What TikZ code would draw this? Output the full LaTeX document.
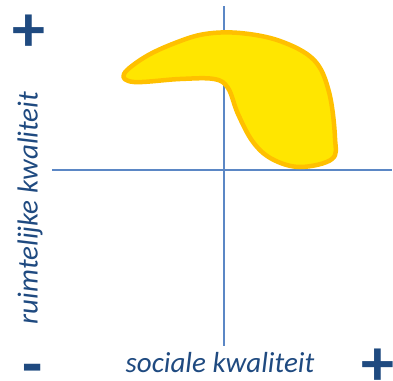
\documentclass[tikz,border=0pt]{standalone}
\usepackage{fontspec}
\setmainfont{Carlito}
\usetikzlibrary{positioning}
\definecolor{axisStroke}{HTML}{5B87C5}
\definecolor{labelText}{HTML}{1F4A80}
\definecolor{blobFill}{HTML}{FFE600}
\definecolor{blobStroke}{HTML}{FFC000}

\begin{document}
\begin{tikzpicture}[
  x=1pt, y=-1pt,
  axis/.style={draw=axisStroke, line width=1.4pt},
  blob/.style={draw=blobStroke, fill=blobFill, line width=4.5pt, line join=round},
  axlbl/.style={font=\fontsize{29}{29}\selectfont\itshape, text=labelText, inner sep=0pt},
  sign/.style={font=\fontsize{66}{66}\selectfont\bfseries, text=labelText, inner sep=0pt}
]
\useasboundingbox (0,0) rectangle (393,380);

% ============ AXES ============
\coordinate (ytop) at (224,6);
\coordinate (ybot) at (224,346);
\coordinate (xleft) at (52,170);
\coordinate (xright) at (392,170);
\draw[axis] (ytop) -- (ybot);
\draw[axis] (xleft) -- (xright);

% ============ REGION ============
\draw[blob] plot[smooth cycle, tension=0.6] coordinates {
  (124,74) (145,57) (175,43) (205,34) (240,33) (280,41) (314,60)
  (329,92) (335,138) (332,159) (300,167) (272,159) (253,142)
  (238,114) (228,88) (214,79) (180,79) (134,82)};

% ============ LABELS ============
\node[axlbl, rotate=90] (ylbl) at (30,208) {ruimtelijke kwaliteit};
\node[axlbl] (xlbl) at (220,363) {sociale kwaliteit};

% ============ SIGNS ============
\node[sign] (yplus) at (29,33) {+};
\node[sign] (xminus) at (33,375) {-};
\node[sign] (xplus) at (378,367) {+};

\end{tikzpicture}
\end{document}
